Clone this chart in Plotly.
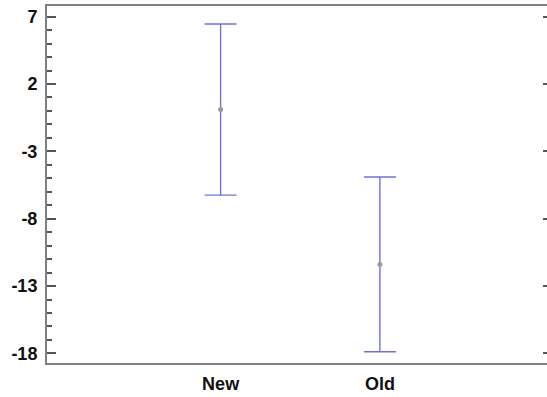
import plotly.graph_objects as go

categories = ["New", "Old"]
means = [0.1, -11.4]
upper = [6.45, -4.9]
lower = [-6.25, -17.87]
ytick_vals = [7, 2, -3, -8, -13, -18]

err_plus = [u - m for u, m in zip(upper, means)]
err_minus = [m - l for m, l in zip(means, lower)]

fig = go.Figure()
fig.add_trace(go.Scatter(
    x=categories, y=means, mode="markers",
    marker=dict(size=5, color="#9a9a9a", line=dict(width=0)),
    error_y=dict(type="data", symmetric=False, array=err_plus, arrayminus=err_minus,
                 color="#7272dc", thickness=1.4, width=16),
    showlegend=False,
))
# invisible trace to drive right-side mirrored ticks
fig.add_trace(go.Scatter(x=categories, y=means, mode="markers", marker=dict(opacity=0),
                         yaxis="y2", showlegend=False, hoverinfo="skip"))

fam = "Liberation Sans, Arial, sans-serif"
tf = dict(family=fam, size=18, color="#111", weight="bold")
yr = [-18.71, 7.79]
fig.update_layout(
    width=547, height=397,
    margin=dict(l=47, r=0, t=6, b=34),
    paper_bgcolor="white", plot_bgcolor="white",
    font=dict(family=fam),
    xaxis=dict(type="category", range=[-1.09, 2.049], showgrid=False, zeroline=False,
               showline=True, mirror=True, linecolor="#808080", linewidth=2,
               ticks="", tickfont=tf, ticklabelstandoff=3),
    yaxis=dict(range=yr, tickvals=ytick_vals, ticktext=[str(v) for v in ytick_vals],
               showgrid=False, zeroline=False, showline=True, linecolor="#808080", linewidth=2,
               ticks="inside", ticklen=9, tickwidth=1.5, tickcolor="#555",
               minor=dict(dtick=1, tick0=0, ticks="inside", ticklen=5, tickwidth=1.5, tickcolor="#555"),
               tickfont=tf, ticklabelstandoff=4),
    yaxis2=dict(range=yr, overlaying="y", side="right", tickvals=ytick_vals,
                showticklabels=False, showgrid=False, zeroline=False, showline=False,
                ticks="inside", ticklen=4, tickwidth=1.5, tickcolor="#555"),
)
fig.write_html("out.html")
